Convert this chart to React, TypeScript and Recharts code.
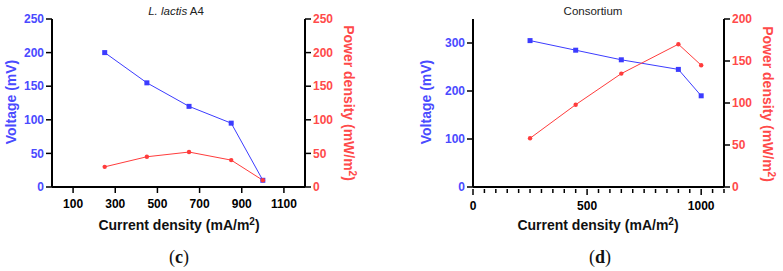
import React from "react";
// Two polarization panels: voltage (left axis) and power density (right axis)
// against current density, for L. lactis A4 (c) and the consortium (d).

import { ComposedChart, Line, XAxis, YAxis } from "recharts";

const BLUE = "#3c3cff";
const BLUE_TEXT = "#4a4aff";
const RED = "#ff3c3c";
const RED_TEXT = "#ff4a4a";

// panel (c) — L. lactis A4
const currentC = [250, 450, 650, 850, 1000];
const voltageC = [200, 155, 120, 95, 10];
const powerC = [30, 45, 52, 40, 10];
const xTicksC = [100, 300, 500, 700, 900, 1100];
const yTicksC = [0, 50, 100, 150, 200, 250];

// panel (d) — consortium
const currentD = [250, 450, 650, 900, 1000];
const voltageD = [305, 285, 265, 245, 190];
const powerD = [58, 98, 135, 170, 145];
const xTicksD = [0, 50, 100, 150, 200, 250, 300, 350, 400, 450, 500, 550, 600, 650, 700, 750, 800, 850, 900, 950, 1000, 1050, 1100];
const xLabelsD = [0, 500, 1000];
const yLeftTicksD = [0, 100, 200, 300];
const yRightTicksD = [0, 50, 100, 150, 200];

const tickFont = { fontSize: 12, fontWeight: 700, fontFamily: "Liberation Sans, Arial, sans-serif" };
const axisLine = { stroke: "#000", strokeWidth: 2 };
const tickLine = { stroke: "#000", strokeWidth: 1.5 };

function SquareDot(props: any) {
  const { cx, cy, index } = props;
  if (cx == null || cy == null) return null;
  return <rect key={`sq-${index}`} x={cx - 2.5} y={cy - 2.5} width={5} height={5} fill={BLUE} />;
}

function RoundDot(props: any) {
  const { cx, cy, index } = props;
  if (cx == null || cy == null) return null;
  return <circle key={`rd-${index}`} cx={cx} cy={cy} r={2.2} fill={RED} />;
}

// minor ticks every 50, labels only on the majors
function MinorTick(props: any) {
  const { x, y, payload } = props;
  const major = xLabelsD.includes(payload.value);
  return (
    <g>
      <line x1={x} x2={x} y1={y - 6} y2={y - 6 + (major ? 6 : 4)} stroke="#000" strokeWidth={1.5} />
      {major && (
        <text x={x} y={y + 15} textAnchor="middle" fill="#000" style={tickFont}>
          {payload.value}
        </text>
      )}
    </g>
  );
}

const dataC = currentC.map((c, i) => ({ current: c, voltage: voltageC[i], power: powerC[i] }));
const dataD = currentD.map((c, i) => ({ current: c, voltage: voltageD[i], power: powerD[i] }));

const labelFont = "Liberation Sans, Arial, sans-serif";

export default function App() {
  return (
    <div style={{ position: "absolute", left: 0, top: 0, width: 783, height: 271, background: "#fff" }}>
      <div style={{ position: "absolute", left: 0, top: 0 }}>
        <ComposedChart width={390} height={215} data={dataC} margin={{ top: 19, right: 0, bottom: 0, left: 0 }}>
          <XAxis
            dataKey="current"
            type="number"
            domain={[0, 1200]}
            ticks={xTicksC}
            height={28}
            axisLine={axisLine}
            tickLine={tickLine}
            tickSize={6}
            tickMargin={6}
            tick={{ ...tickFont, fill: "#000" }}
          />
          <YAxis
            yAxisId="v"
            domain={[0, 250]}
            ticks={yTicksC}
            width={52}
            axisLine={axisLine}
            tickLine={tickLine}
            tickSize={6}
            tickMargin={2}
            tick={{ ...tickFont, fill: BLUE_TEXT }}
          />
          <YAxis
            yAxisId="p"
            orientation="right"
            domain={[0, 250]}
            ticks={yTicksC}
            width={85}
            axisLine={axisLine}
            tickLine={tickLine}
            tickSize={6}
            tickMargin={2}
            tick={{ ...tickFont, fill: RED_TEXT }}
          />
          <Line yAxisId="v" dataKey="voltage" stroke={BLUE} strokeWidth={1} dot={<SquareDot />} isAnimationActive={false} />
          <Line yAxisId="p" dataKey="power" stroke={RED} strokeWidth={1} dot={<RoundDot />} isAnimationActive={false} />
        </ComposedChart>
      </div>

      <div style={{ position: "absolute", left: 390, top: 0 }}>
        <ComposedChart width={393} height={215} data={dataD} margin={{ top: 19, right: 0, bottom: 0, left: 0 }}>
          <XAxis
            dataKey="current"
            type="number"
            domain={[0, 1100]}
            ticks={xTicksD}
            interval={0}
            height={28}
            axisLine={axisLine}
            tickLine={false}
            tick={<MinorTick />}
          />
          <YAxis
            yAxisId="v"
            domain={[0, 350]}
            ticks={yLeftTicksD}
            width={83}
            axisLine={axisLine}
            tickLine={tickLine}
            tickSize={6}
            tickMargin={2}
            tick={{ ...tickFont, fill: BLUE_TEXT }}
          />
          <YAxis
            yAxisId="p"
            orientation="right"
            domain={[0, 200]}
            ticks={yRightTicksD}
            width={59}
            axisLine={axisLine}
            tickLine={tickLine}
            tickSize={6}
            tickMargin={2}
            tick={{ ...tickFont, fill: RED_TEXT }}
          />
          <Line yAxisId="v" dataKey="voltage" stroke={BLUE} strokeWidth={1} dot={<SquareDot />} isAnimationActive={false} />
          <Line yAxisId="p" dataKey="power" stroke={RED} strokeWidth={1} dot={<RoundDot />} isAnimationActive={false} />
        </ComposedChart>
      </div>

      <svg width={783} height={271} style={{ position: "absolute", left: 0, top: 0, pointerEvents: "none" }}>
        <g fontFamily={labelFont}>
          <text x={176} y={15} textAnchor="middle" fontSize={11.5} fill="#222">
            <tspan fontStyle="italic">L. lactis</tspan> A4
          </text>
          <text x={593} y={15} textAnchor="middle" fontSize={11.5} fill="#222">
            Consortium
          </text>

          <text x={179} y={230} textAnchor="middle" fontSize={14} fontWeight={700} fill="#111">
            Current density (mA/m<tspan dy={-5} fontSize={10}>2</tspan><tspan dy={5}>)</tspan>
          </text>
          <text x={598} y={230} textAnchor="middle" fontSize={14} fontWeight={700} fill="#111">
            Current density (mA/m<tspan dy={-5} fontSize={10}>2</tspan><tspan dy={5}>)</tspan>
          </text>

          <text transform="translate(16,102) rotate(-90)" textAnchor="middle" fontSize={14} fontWeight={700} fill={BLUE_TEXT}>
            Voltage (mV)
          </text>
          <text transform="translate(431,102) rotate(-90)" textAnchor="middle" fontSize={14} fontWeight={700} fill={BLUE_TEXT}>
            Voltage (mV)
          </text>

          <text transform="translate(344,103) rotate(90)" textAnchor="middle" fontSize={14} fontWeight={700} fill={RED_TEXT}>
            Power density (mW/m<tspan dy={-5} fontSize={10}>2</tspan><tspan dy={5}>)</tspan>
          </text>
          <text transform="translate(763,104) rotate(90)" textAnchor="middle" fontSize={14} fontWeight={700} fill={RED_TEXT}>
            Power density (mW/m<tspan dy={-5} fontSize={10}>2</tspan><tspan dy={5}>)</tspan>
          </text>
        </g>
        <text x={179} y={263} textAnchor="middle" fontSize={18} fontFamily="Liberation Serif, Times New Roman, serif" fill="#111">
          (<tspan fontWeight={700}>c</tspan>)
        </text>
        <text x={600} y={263} textAnchor="middle" fontSize={18} fontFamily="Liberation Serif, Times New Roman, serif" fill="#111">
          (<tspan fontWeight={700}>d</tspan>)
        </text>
      </svg>
    </div>
  );
}
